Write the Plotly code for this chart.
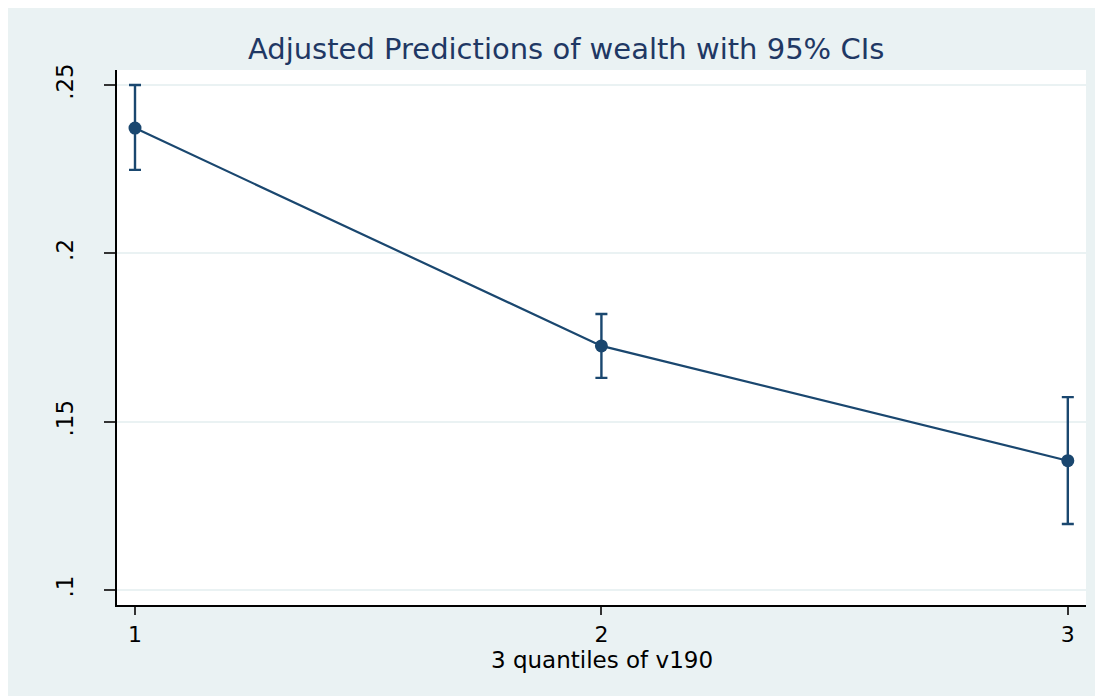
import plotly.graph_objects as go

categories = [1, 2, 3]
margin_pred = [0.2372, 0.1725, 0.1384]
ci_upper = [0.2500, 0.1820, 0.1573]
ci_lower = [0.2248, 0.1630, 0.1196]
y_ticks = [0.10, 0.15, 0.20, 0.25]
y_ticklabels = [".1", ".15", ".2", ".25"]
x_ticklabels = ["1", "2", "3"]

navy = "#1a476f"
bg = "#eaf2f3"
font_family = "DejaVu Sans, Liberation Sans, Arial, sans-serif"

err_plus = [u - m for u, m in zip(ci_upper, margin_pred)]
err_minus = [m - l for m, l in zip(margin_pred, ci_lower)]

fig = go.Figure()
fig.add_trace(go.Scatter(
    x=categories, y=margin_pred, mode="lines+markers",
    line=dict(color=navy, width=2.2),
    marker=dict(color=navy, size=13),
    error_y=dict(type="data", symmetric=False, array=err_plus, arrayminus=err_minus,
                 color=navy, thickness=2.4, width=6),
    showlegend=False,
))

fig.add_annotation(text="3 quantiles of v190", xref="paper", yref="paper",
                   x=0.5, y=-55 / 535, xanchor="center", yanchor="middle",
                   showarrow=False, font=dict(size=23, color="black", family=font_family))

fig.update_layout(
    width=1103, height=696,
    paper_bgcolor=bg, plot_bgcolor="white",
    margin=dict(l=109, r=25, t=62, b=99),
    font=dict(family=font_family, color="black"),
    title=dict(text="Adjusted Predictions of wealth with 95% CIs",
               x=0.506, xref="container", xanchor="center",
               y=1 - 41 / 696, yref="container", yanchor="middle",
               font=dict(size=29, color="#1f3864")),
    xaxis=dict(range=[0.9614, 3.039], tickvals=categories, ticktext=x_ticklabels,
               showgrid=False, zeroline=False, showline=True, linecolor="black", linewidth=1.5,
               ticks="outside", ticklen=8, tickwidth=1.5, tickcolor="#333",
               tickfont=dict(size=22), ticklabelstandoff=1),
    yaxis=dict(range=[0.09554, 0.25446], tickvals=y_ticks, ticktext=y_ticklabels,
               showgrid=True, gridcolor=bg, gridwidth=2, zeroline=False,
               showline=True, linecolor="black", linewidth=1.5,
               ticks="outside", ticklen=11, tickwidth=1.5, tickcolor="#333",
               tickangle=-90, tickfont=dict(size=23), ticklabelstandoff=22),
)

fig.write_html("out.html")
